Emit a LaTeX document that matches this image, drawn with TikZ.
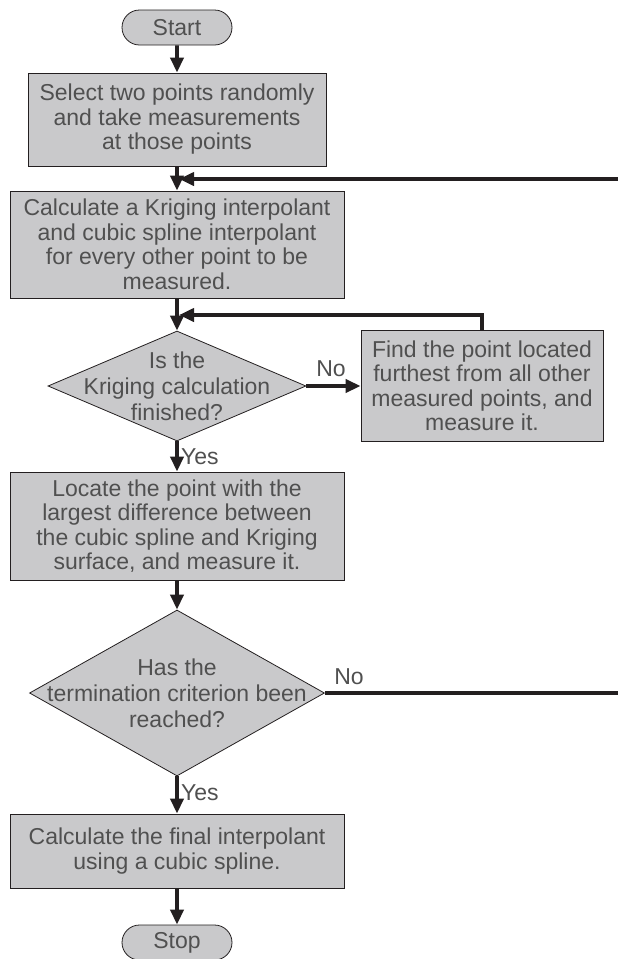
\documentclass[tikz,border=0pt]{standalone}
\usepackage{fontspec}
\setmainfont{Liberation Sans}
\usetikzlibrary{positioning}
\usetikzlibrary{arrows.meta,shapes}
\usetikzlibrary{calc}
\newcommand{\flowfont}{\fontsize{23}{24.5}\selectfont}
\newcommand{\askfont}{\fontsize{23}{26}\selectfont}
\definecolor{boxgray}{RGB}{201,201,203}
\definecolor{inkgray}{RGB}{80,80,80}
\definecolor{edgeblack}{RGB}{35,31,32}
\tikzstyle{terminal}=[rounded rectangle,fill=boxgray,draw=edgeblack,line width=0.8pt,minimum width=110,minimum height=35,inner sep=0pt,text=inkgray,font=\flowfont]
\tikzstyle{process}=[rectangle,fill=boxgray,draw=edgeblack,line width=0.8pt,inner sep=0pt,align=center,text=inkgray,font=\flowfont]
\tikzstyle{decision}=[diamond,fill=boxgray,draw=edgeblack,line width=0.8pt,inner sep=0pt]
\tikzstyle{asktext}=[align=center,text=inkgray,font=\askfont,inner sep=0pt]
\tikzstyle{edge} = [draw,line width=3.8pt,edgeblack,-{Triangle[length=15pt,width=13pt]}]
\tikzstyle{plainedge} = [draw,line width=3.8pt,edgeblack]
\tikzstyle{answer} = [text=inkgray,font=\flowfont,inner sep=0pt]
\begin{document}
\begin{tikzpicture}[x=1pt,y=-1pt]

  \useasboundingbox (0,0) rectangle (618,959);
  \def\sx{177};

  \node[terminal] (start) at (\sx,27.5) {Start};
  \node[terminal] (stop) at (\sx,942.5) {Stop};

   \foreach \x/\y/\w/\h/\name/\txt in {
          \sx/119.5/298/93/box1/{Select two points randomly\\and take measurements\\at those points},
          \sx/244.5/334/107/box2/{Calculate a Kriging interpolant\\and cubic spline interpolant\\for every other point to be\\measured.},
          482/386/242/111/box3/{Find the point located\\furthest from all other\\measured points, and\\measure it.},
          \sx/526/334/108/box4/{Locate the point with the\\largest difference between\\the cubic spline and Kriging\\surface, and measure it.},
          \sx/851/334/74/box5/{Calculate the final interpolant\\using a cubic spline.}}
          \node[process,minimum width=\w,minimum height=\h] (\name) at (\x,\y) {\txt};

  \node[decision,minimum width=258,minimum height=110,
        label={[asktext]center:{Is the\\Kriging calculation\\finished?}}] (dec1) at (\sx,386) {};
  \node[decision,minimum width=295,minimum height=166,
        label={[asktext]center:{Has the\\termination criterion been\\reached?}}] (dec2) at (\sx,693) {};

  \coordinate (back1) at (\sx+2,315);
  \coordinate (back2) at (\sx+2,179);
  \coordinate (exit1) at (620,693);
  \coordinate (exit2) at (620,179);

  \foreach \source/ \dest in {start/box1, box1/box2, box2/dec1, dec1/box4, box4/dec2, dec2/box5, box5/stop, dec1/box3}
         \path[edge] (\source) -- (\dest);

  \path[edge] (box3.north) |- (back1);
  \path[plainedge] (dec2) -- (exit1);
  \path[edge] (exit2) -- (back2);

  \node[answer] (no1) at (331,369) {No};
  \node[answer] (no2) at (349,677) {No};
  \node[answer,anchor=west] (yes1) at (\sx+4,457) {Yes};
  \node[answer,anchor=west] (yes2) at (\sx+4,793) {Yes};

   \end{tikzpicture}
\end{document}
